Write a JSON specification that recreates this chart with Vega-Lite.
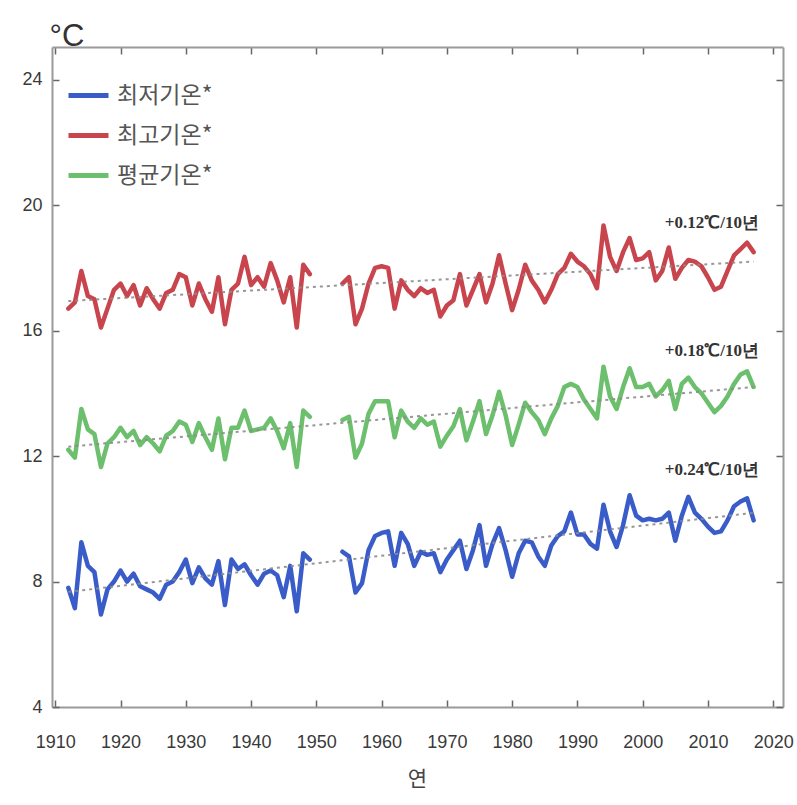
{
  "$schema": "https://vega.github.io/schema/vega-lite/v6.json",
  "width": 731,
  "height": 660,
  "autosize": "none",
  "padding": {"left": 52, "top": 47, "right": 14, "bottom": 98},
  "background": "white",
  "datasets": {
    "main": [
      {"year":1912,"p":1,"최저기온*":7.8,"최고기온*":16.7,"평균기온*":12.2},
      {"year":1913,"p":1,"최저기온*":7.15,"최고기온*":16.9,"평균기온*":11.95},
      {"year":1914,"p":1,"최저기온*":9.25,"최고기온*":17.9,"평균기온*":13.5},
      {"year":1915,"p":1,"최저기온*":8.5,"최고기온*":17.1,"평균기온*":12.85},
      {"year":1916,"p":1,"최저기온*":8.3,"최고기온*":17.0,"평균기온*":12.7},
      {"year":1917,"p":1,"최저기온*":6.95,"최고기온*":16.1,"평균기온*":11.65},
      {"year":1918,"p":1,"최저기온*":7.75,"최고기온*":16.7,"평균기온*":12.4},
      {"year":1919,"p":1,"최저기온*":8.0,"최고기온*":17.3,"평균기온*":12.6},
      {"year":1920,"p":1,"최저기온*":8.35,"최고기온*":17.5,"평균기온*":12.9},
      {"year":1921,"p":1,"최저기온*":8.0,"최고기온*":17.1,"평균기온*":12.6},
      {"year":1922,"p":1,"최저기온*":8.25,"최고기온*":17.45,"평균기온*":12.8},
      {"year":1923,"p":1,"최저기온*":7.85,"최고기온*":16.8,"평균기온*":12.35},
      {"year":1924,"p":1,"최저기온*":7.75,"최고기온*":17.35,"평균기온*":12.6},
      {"year":1925,"p":1,"최저기온*":7.65,"최고기온*":17.0,"평균기온*":12.4},
      {"year":1926,"p":1,"최저기온*":7.45,"최고기온*":16.7,"평균기온*":12.15},
      {"year":1927,"p":1,"최저기온*":7.9,"최고기온*":17.2,"평균기온*":12.65},
      {"year":1928,"p":1,"최저기온*":8.0,"최고기온*":17.3,"평균기온*":12.8},
      {"year":1929,"p":1,"최저기온*":8.3,"최고기온*":17.8,"평균기온*":13.1},
      {"year":1930,"p":1,"최저기온*":8.7,"최고기온*":17.7,"평균기온*":13.0},
      {"year":1931,"p":1,"최저기온*":7.95,"최고기온*":16.8,"평균기온*":12.45},
      {"year":1932,"p":1,"최저기온*":8.45,"최고기온*":17.5,"평균기온*":13.05},
      {"year":1933,"p":1,"최저기온*":8.1,"최고기온*":17.0,"평균기온*":12.6},
      {"year":1934,"p":1,"최저기온*":7.9,"최고기온*":16.6,"평균기온*":12.2},
      {"year":1935,"p":1,"최저기온*":8.65,"최고기온*":17.7,"평균기온*":13.2},
      {"year":1936,"p":1,"최저기온*":7.25,"최고기온*":16.2,"평균기온*":11.9},
      {"year":1937,"p":1,"최저기온*":8.7,"최고기온*":17.3,"평균기온*":12.9},
      {"year":1938,"p":1,"최저기온*":8.4,"최고기온*":17.5,"평균기온*":12.9},
      {"year":1939,"p":1,"최저기온*":8.55,"최고기온*":18.35,"평균기온*":13.45},
      {"year":1940,"p":1,"최저기온*":8.2,"최고기온*":17.45,"평균기온*":12.8},
      {"year":1941,"p":1,"최저기온*":7.9,"최고기온*":17.7,"평균기온*":12.85},
      {"year":1942,"p":1,"최저기온*":8.25,"최고기온*":17.4,"평균기온*":12.9},
      {"year":1943,"p":1,"최저기온*":8.35,"최고기온*":18.15,"평균기온*":13.2},
      {"year":1944,"p":1,"최저기온*":8.2,"최고기온*":17.6,"평균기온*":12.8},
      {"year":1945,"p":1,"최저기온*":7.5,"최고기온*":16.9,"평균기온*":12.25},
      {"year":1946,"p":1,"최저기온*":8.5,"최고기온*":17.7,"평균기온*":13.05},
      {"year":1947,"p":1,"최저기온*":7.05,"최고기온*":16.1,"평균기온*":11.65},
      {"year":1948,"p":1,"최저기온*":8.9,"최고기온*":18.1,"평균기온*":13.45},
      {"year":1949,"p":1,"최저기온*":8.7,"최고기온*":17.8,"평균기온*":13.25},
      {"year":1954,"p":2,"최저기온*":8.95,"최고기온*":17.5,"평균기온*":13.15},
      {"year":1955,"p":2,"최저기온*":8.8,"최고기온*":17.7,"평균기온*":13.25},
      {"year":1956,"p":2,"최저기온*":7.65,"최고기온*":16.2,"평균기온*":11.95},
      {"year":1957,"p":2,"최저기온*":7.95,"최고기온*":16.7,"평균기온*":12.4},
      {"year":1958,"p":2,"최저기온*":9.0,"최고기온*":17.5,"평균기온*":13.35},
      {"year":1959,"p":2,"최저기온*":9.45,"최고기온*":18.0,"평균기온*":13.75},
      {"year":1960,"p":2,"최저기온*":9.55,"최고기온*":18.05,"평균기온*":13.75},
      {"year":1961,"p":2,"최저기온*":9.6,"최고기온*":18.0,"평균기온*":13.75},
      {"year":1962,"p":2,"최저기온*":8.5,"최고기온*":16.7,"평균기온*":12.6},
      {"year":1963,"p":2,"최저기온*":9.55,"최고기온*":17.6,"평균기온*":13.45},
      {"year":1964,"p":2,"최저기온*":9.2,"최고기온*":17.3,"평균기온*":13.1},
      {"year":1965,"p":2,"최저기온*":8.5,"최고기온*":17.1,"평균기온*":12.9},
      {"year":1966,"p":2,"최저기온*":8.95,"최고기온*":17.35,"평균기온*":13.2},
      {"year":1967,"p":2,"최저기온*":8.85,"최고기온*":17.2,"평균기온*":13.0},
      {"year":1968,"p":2,"최저기온*":8.9,"최고기온*":17.3,"평균기온*":13.1},
      {"year":1969,"p":2,"최저기온*":8.3,"최고기온*":16.45,"평균기온*":12.3},
      {"year":1970,"p":2,"최저기온*":8.7,"최고기온*":16.8,"평균기온*":12.65},
      {"year":1971,"p":2,"최저기온*":9.0,"최고기온*":16.97,"평균기온*":12.95},
      {"year":1972,"p":2,"최저기온*":9.3,"최고기온*":17.8,"평균기온*":13.5},
      {"year":1973,"p":2,"최저기온*":8.4,"최고기온*":16.8,"평균기온*":12.5},
      {"year":1974,"p":2,"최저기온*":9.0,"최고기온*":17.3,"평균기온*":13.1},
      {"year":1975,"p":2,"최저기온*":9.8,"최고기온*":17.8,"평균기온*":13.75},
      {"year":1976,"p":2,"최저기온*":8.5,"최고기온*":16.9,"평균기온*":12.7},
      {"year":1977,"p":2,"최저기온*":9.2,"최고기온*":17.5,"평균기온*":13.3},
      {"year":1978,"p":2,"최저기온*":9.7,"최고기온*":18.4,"평균기온*":14.05},
      {"year":1979,"p":2,"최저기온*":9.0,"최고기온*":17.5,"평균기온*":13.3},
      {"year":1980,"p":2,"최저기온*":8.15,"최고기온*":16.65,"평균기온*":12.35},
      {"year":1981,"p":2,"최저기온*":8.9,"최고기온*":17.3,"평균기온*":13.0},
      {"year":1982,"p":2,"최저기온*":9.3,"최고기온*":18.1,"평균기온*":13.7},
      {"year":1983,"p":2,"최저기온*":9.25,"최고기온*":17.6,"평균기온*":13.4},
      {"year":1984,"p":2,"최저기온*":8.8,"최고기온*":17.3,"평균기온*":13.15},
      {"year":1985,"p":2,"최저기온*":8.5,"최고기온*":16.9,"평균기온*":12.7},
      {"year":1986,"p":2,"최저기온*":9.15,"최고기온*":17.3,"평균기온*":13.2},
      {"year":1987,"p":2,"최저기온*":9.45,"최고기온*":17.8,"평균기온*":13.6},
      {"year":1988,"p":2,"최저기온*":9.6,"최고기온*":18.0,"평균기온*":14.2},
      {"year":1989,"p":2,"최저기온*":10.2,"최고기온*":18.45,"평균기온*":14.3},
      {"year":1990,"p":2,"최저기온*":9.5,"최고기온*":18.2,"평균기온*":14.2},
      {"year":1991,"p":2,"최저기온*":9.5,"최고기온*":18.05,"평균기온*":13.8},
      {"year":1992,"p":2,"최저기온*":9.2,"최고기온*":17.8,"평균기온*":13.5},
      {"year":1993,"p":2,"최저기온*":9.05,"최고기온*":17.35,"평균기온*":13.2},
      {"year":1994,"p":2,"최저기온*":10.45,"최고기온*":19.35,"평균기온*":14.85},
      {"year":1995,"p":2,"최저기온*":9.6,"최고기온*":18.35,"평균기온*":13.9},
      {"year":1996,"p":2,"최저기온*":9.1,"최고기온*":17.9,"평균기온*":13.5},
      {"year":1997,"p":2,"최저기온*":9.8,"최고기온*":18.5,"평균기온*":14.2},
      {"year":1998,"p":2,"최저기온*":10.75,"최고기온*":18.95,"평균기온*":14.8},
      {"year":1999,"p":2,"최저기온*":10.1,"최고기온*":18.25,"평균기온*":14.2},
      {"year":2000,"p":2,"최저기온*":9.95,"최고기온*":18.3,"평균기온*":14.2},
      {"year":2001,"p":2,"최저기온*":10.0,"최고기온*":18.5,"평균기온*":14.3},
      {"year":2002,"p":2,"최저기온*":9.95,"최고기온*":17.6,"평균기온*":13.9},
      {"year":2003,"p":2,"최저기온*":10.0,"최고기온*":17.9,"평균기온*":14.1},
      {"year":2004,"p":2,"최저기온*":10.2,"최고기온*":18.65,"평균기온*":14.4},
      {"year":2005,"p":2,"최저기온*":9.3,"최고기온*":17.65,"평균기온*":13.5},
      {"year":2006,"p":2,"최저기온*":10.1,"최고기온*":18.0,"평균기온*":14.3},
      {"year":2007,"p":2,"최저기온*":10.7,"최고기온*":18.25,"평균기온*":14.5},
      {"year":2008,"p":2,"최저기온*":10.2,"최고기온*":18.2,"평균기온*":14.2},
      {"year":2009,"p":2,"최저기온*":10.0,"최고기온*":18.05,"평균기온*":14.0},
      {"year":2010,"p":2,"최저기온*":9.75,"최고기온*":17.7,"평균기온*":13.7},
      {"year":2011,"p":2,"최저기온*":9.55,"최고기온*":17.3,"평균기온*":13.4},
      {"year":2012,"p":2,"최저기온*":9.6,"최고기온*":17.4,"평균기온*":13.6},
      {"year":2013,"p":2,"최저기온*":9.95,"최고기온*":17.9,"평균기온*":13.9},
      {"year":2014,"p":2,"최저기온*":10.4,"최고기온*":18.4,"평균기온*":14.3},
      {"year":2015,"p":2,"최저기온*":10.55,"최고기온*":18.6,"평균기온*":14.6},
      {"year":2016,"p":2,"최저기온*":10.65,"최고기온*":18.8,"평균기온*":14.7},
      {"year":2017,"p":2,"최저기온*":9.95,"최고기온*":18.5,"평균기온*":14.2}
    ],
    "trend": [
      {"series":"최저기온*","year":1912,"t":7.67},
      {"series":"최저기온*","year":2017,"t":10.19},
      {"series":"최고기온*","year":1912,"t":16.94},
      {"series":"최고기온*","year":2017,"t":18.2},
      {"series":"평균기온*","year":1912,"t":12.3},
      {"series":"평균기온*","year":2017,"t":14.2}
    ],
    "notes": [
      {"label":"+0.12℃/10년","year":2010.6,"t":19.43},
      {"label":"+0.18℃/10년","year":2010.6,"t":15.35},
      {"label":"+0.24℃/10년","year":2010.6,"t":11.55}
    ]
  },
  "layer": [
    {
      "data": {"name": "main"},
      "transform": [{"fold": ["최저기온*","최고기온*","평균기온*"], "as": ["series","t"]}],
      "mark": {"type": "line", "strokeWidth": 4.5, "strokeJoin": "round", "strokeCap": "round"},
      "encoding": {
        "x": {"field": "year", "type": "quantitative",
              "scale": {"domain": [1909.5, 2021.5], "nice": false, "zero": false},
              "axis": {"values": [1910,1920,1930,1940,1950,1960,1970,1980,1990,2000,2010,2020], "format": "d",
                       "labelFontSize": 18, "labelPadding": 33, "labelFlush": false,
                       "title": "연", "titleFontSize": 21, "titleFontWeight": "normal", "titleColor": "#444",
                       "titleFont": "Noto Sans CJK KR",
                       "titleX": 365, "titleY": 72, "titleBaseline": "middle", "titleAlign": "center"}},
        "y": {"field": "t", "type": "quantitative",
              "scale": {"domain": [4, 25.04], "nice": false, "zero": false},
              "axis": {"values": [4,8,12,16,20,24], "labelFontSize": 18, "labelPadding": 17,
                       "title": "°C", "titleAngle": 0, "titleAlign": "left", "titleBaseline": "alphabetic",
                       "titleX": -3, "titleY": -2, "titleFontSize": 31, "titleFontWeight": "normal", "titleColor": "#333"}},
        "color": {"field": "series", "type": "nominal",
                  "scale": {"domain": ["최저기온*","최고기온*","평균기온*"], "range": ["#3a5cc8","#c9454e","#6cbf6c"]},
                  "legend": {"title": null, "orient": "none", "legendX": 14, "legendY": 26,
                             "symbolType": "stroke", "symbolSize": 1600, "symbolStrokeWidth": 5,
                             "labelFontSize": 23, "labelFont": "Noto Sans CJK KR", "labelColor": "#555",
                             "rowPadding": 5, "labelOffset": 6}},
        "detail": {"field": "p", "type": "nominal"}
      }
    },
    {
      "data": {"name": "trend"},
      "mark": {"type": "line", "strokeWidth": 2, "strokeDash": [3, 4], "color": "#8c8c8c", "opacity": 0.9},
      "encoding": {
        "x": {"field": "year", "type": "quantitative",
              "scale": {"domain": [1909.5, 2021.5], "nice": false, "zero": false},
              "axis": {"orient": "top", "values": [1910,1920,1930,1940,1950,1960,1970,1980,1990,2000,2010,2020],
                       "labels": false, "title": null}},
        "y": {"field": "t", "type": "quantitative",
              "scale": {"domain": [4, 25.04], "nice": false, "zero": false},
              "axis": {"orient": "right", "values": [4,8,12,16,20,24], "labels": false, "title": null}},
        "detail": {"field": "series", "type": "nominal"}
      }
    },
    {
      "data": {"name": "notes"},
      "mark": {"type": "text", "fontSize": 17, "fontWeight": "bold", "font": "Liberation Serif", "color": "#333", "align": "center", "baseline": "middle"},
      "encoding": {
        "x": {"field": "year", "type": "quantitative", "scale": {"domain": [1909.5, 2021.5], "nice": false, "zero": false}, "axis": null},
        "y": {"field": "t", "type": "quantitative", "scale": {"domain": [4, 25.04], "nice": false, "zero": false}, "axis": null},
        "text": {"field": "label"}
      }
    }
  ],
  "resolve": {"scale": {"x": "independent", "y": "independent"}},
  "config": {
    "view": {"stroke": null},
    "axis": {"labelFont": "Liberation Sans", "labelColor": "#3a3a3a", "domainColor": "#9a9a9a", "domainWidth": 2,
             "tickColor": "#666", "tickWidth": 1.5, "tickSize": -7, "grid": false}
  }
}
